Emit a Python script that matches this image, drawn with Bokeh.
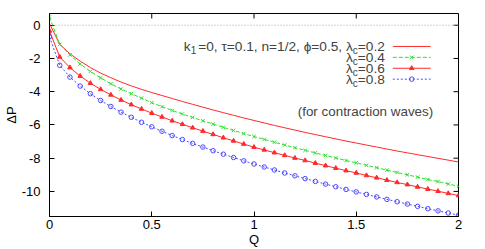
from bokeh.plotting import figure
from bokeh.models import Range1d, LinearAxis, FixedTicker, Label, Span
from bokeh.embed import file_html
from bokeh.resources import INLINE

# ---------------- data ----------------
Q = [0.0, 0.05, 0.1, 0.15, 0.2, 0.25, 0.3, 0.35, 0.4, 0.45,
     0.5, 0.55, 0.6, 0.65, 0.7, 0.75, 0.8, 0.85, 0.9, 0.95,
     1.0, 1.05, 1.1, 1.15, 1.2, 1.25, 1.3, 1.35, 1.4, 1.45,
     1.5, 1.55, 1.6, 1.65, 1.7, 1.75, 1.8, 1.85, 1.9, 1.95, 2.0]

dp_lam02 = [0.10, -1.15, -1.72, -2.16, -2.55, -2.88, -3.16, -3.42, -3.65, -3.86,
            -4.05, -4.23, -4.41, -4.59, -4.76, -4.93, -5.10, -5.26, -5.42, -5.58,
            -5.73, -5.88, -6.03, -6.17, -6.31, -6.45, -6.58, -6.71, -6.84, -6.97,
            -7.09, -7.21, -7.33, -7.45, -7.57, -7.68, -7.79, -7.90, -8.01, -8.12, -8.23]

dp_lam04 = [0.50, -1.15, -1.78, -2.33, -2.78, -3.17, -3.52, -3.84, -4.12, -4.39,
            -4.66, -4.90, -5.13, -5.34, -5.55, -5.75, -5.95, -6.14, -6.33, -6.52,
            -6.70, -6.87, -7.04, -7.21, -7.37, -7.53, -7.68, -7.84, -7.99, -8.14,
            -8.28, -8.43, -8.57, -8.72, -8.86, -9.00, -9.14, -9.28, -9.41, -9.55, -9.69]

dp_lam06 = [-0.34, -1.91, -2.55, -3.06, -3.49, -3.86, -4.19, -4.50, -4.78, -5.04,
            -5.29, -5.52, -5.75, -5.96, -6.17, -6.37, -6.57, -6.77, -6.96, -7.15,
            -7.34, -7.50, -7.67, -7.83, -7.99, -8.14, -8.30, -8.45, -8.60, -8.75,
            -8.89, -9.04, -9.18, -9.32, -9.46, -9.59, -9.73, -9.86, -9.99, -10.12, -10.25]

dp_lam08 = [-0.70, -2.41, -3.12, -3.66, -4.12, -4.53, -4.89, -5.23, -5.54, -5.84,
            -6.11, -6.38, -6.64, -6.88, -7.11, -7.33, -7.55, -7.76, -7.96, -8.16,
            -8.35, -8.53, -8.71, -8.89, -9.06, -9.23, -9.40, -9.56, -9.72, -9.88,
            -10.03, -10.18, -10.33, -10.48, -10.62, -10.76, -10.90, -11.04, -11.17, -11.30, -11.43]

x_ticks = [0, 0.5, 1, 1.5, 2]
x_tick_labels = ["0", "0.5", "1", "1.5", "2"]
y_ticks = [0, -2, -4, -6, -8, -10]
y_tick_labels = ["0", "-2", "-4", "-6", "-8", "-10"]

legend_values = ["0.2", "0.4", "0.6", "0.8"]
legend_prefix = "=0, \u03c4=0.1, n=1/2, \u03d5=0.5, \u03bb"
note_text = "(for contraction waves)"
x_label = "Q"
y_label = "\u0394P"

# ---------------- layout ----------------
FONT = "Liberation Sans"
W, H = 485, 249
ML, MR, MT, MB = 47, 27, 13, 33
FW = W - ML - MR
FH = H - MT - MB
X0, X1 = 0.0, 2.0
Y0, Y1 = -11.51, 0.706
TICK = 5

def dx(px):   # frame-relative pixel (from left) -> data x
    return X0 + px / FW * (X1 - X0)

def dy(py):   # frame-relative pixel (from top) -> data y
    return Y1 - py / FH * (Y1 - Y0)

# approximate Liberation Sans advance widths (em)
ADV = {"=": 0.584, "0": 0.556, "1": 0.556, "2": 0.556, "4": 0.556, "5": 0.556,
       "6": 0.556, "8": 0.556, ".": 0.278, ",": 0.278, " ": 0.278, "/": 0.278,
       "n": 0.556, "k": 0.5, "c": 0.5, "\u03c4": 0.43, "\u03d5": 0.66, "\u03bb": 0.5}

def tw(s, size):
    return sum(ADV.get(ch, 0.556) for ch in s) * size

RED = "#ff2a2a"
GREEN = "#2ee02e"
BLUE = "#4a4aff"

p = figure(width=W, height=H, x_range=Range1d(X0, X1), y_range=Range1d(Y0, Y1),
           output_backend="svg", toolbar_location=None,
           x_axis_location=None, y_axis_location=None,
           min_border_left=ML, min_border_right=MR, min_border_top=MT, min_border_bottom=MB)
p.grid.visible = False
p.outline_line_color = "black"
p.outline_line_width = 1
p.background_fill_color = "white"
p.border_fill_color = "white"

def make_axis(ticks, labels, standoff, title):
    ax = LinearAxis(ticker=FixedTicker(ticks=ticks))
    ax.major_tick_in = TICK
    ax.major_tick_out = 0
    ax.minor_tick_line_color = None
    ax.axis_line_color = "black"
    ax.major_tick_line_color = "black"
    ax.major_label_overrides = {t: l for t, l in zip(ticks, labels)}
    ax.major_label_text_font = FONT
    ax.major_label_text_font_size = "13px"
    ax.major_label_text_color = "black"
    ax.major_label_standoff = standoff
    ax.axis_label = title
    ax.axis_label_text_font = FONT
    ax.axis_label_text_font_size = "13px"
    ax.axis_label_text_font_style = "normal"
    ax.axis_label_text_color = "black"
    ax.axis_label_standoff = 0
    return ax

p.add_layout(make_axis(x_ticks, x_tick_labels, 3, x_label), "below")
p.add_layout(make_axis(y_ticks, y_tick_labels, 9, y_label), "left")

# mirrored inward ticks on the top and right borders
ty = (Y1 - Y0) * TICK / FH
tx = (X1 - X0) * TICK / FW
p.segment(x0=x_ticks, y0=[Y1] * len(x_ticks), x1=x_ticks, y1=[Y1 - ty] * len(x_ticks),
          line_color="black", line_width=1)
p.segment(x0=[X1] * len(y_ticks), y0=y_ticks, x1=[X1 - tx] * len(y_ticks), y1=y_ticks,
          line_color="black", line_width=1)

p.add_layout(Span(location=0, dimension="width", line_color="#a8a8a8",
                  line_dash="1 2", line_width=1))

# series
p.line(Q, dp_lam02, line_color=RED, line_width=1)
p.line(Q, dp_lam04, line_color=GREEN, line_width=1, line_dash="4 2")
p.scatter(Q, dp_lam04, marker="x", size=5, line_color=GREEN, line_width=1)
p.line(Q, dp_lam06, line_color=RED, line_width=1)
p.scatter(Q, dp_lam06, marker="triangle", size=4.5, line_color=RED,
          fill_color=RED, line_width=1)
p.line(Q, dp_lam08, line_color=BLUE, line_width=1, line_dash="2 2")
p.scatter(Q, dp_lam08, marker="circle", size=4.5, line_color=BLUE,
          fill_color=None, line_width=1)

# legend (gnuplot style: right aligned text, sample on its right)
ROW = 10.9
LEG_TOP = 27.5
SAMPLE_L, SAMPLE_R = 345, 383
TXT_R = 337
styles = [dict(color=RED, dash="solid", marker=None),
          dict(color=GREEN, dash="4 2", marker="x"),
          dict(color=RED, dash="solid", marker="triangle"),
          dict(color=BLUE, dash="2 2", marker="circle")]
M, S = 13.7, 10
for i, val in enumerate(legend_values):
    yc = dy(LEG_TOP + ROW * i + ROW / 2)
    st = styles[i]
    p.line([dx(SAMPLE_L), dx(SAMPLE_R)], [yc, yc], line_color=st["color"],
           line_width=1, line_dash=st["dash"])
    if st["marker"] == "x":
        p.scatter([dx((SAMPLE_L + SAMPLE_R) / 2)], [yc], marker="x", size=5,
                  line_color=st["color"], line_width=1)
    elif st["marker"] == "triangle":
        p.scatter([dx((SAMPLE_L + SAMPLE_R) / 2)], [yc], marker="triangle", size=4.5,
                  line_color=st["color"], fill_color=st["color"], line_width=1)
    elif st["marker"] == "circle":
        p.scatter([dx((SAMPLE_L + SAMPLE_R) / 2)], [yc], marker="circle", size=4.5,
                  line_color=st["color"], fill_color=None, line_width=1)

    tail = "=" + val
    off = 0.0
    p.add_layout(Label(x=dx(TXT_R), y=yc, text=tail, text_font=FONT,
                       text_font_size=f"{M}px", text_align="right",
                       text_baseline="middle", x_offset=off))
    off -= tw(tail, M)
    p.add_layout(Label(x=dx(TXT_R), y=yc, text="c", text_font=FONT,
                       text_font_size=f"{S}px", text_align="right",
                       text_baseline="middle", x_offset=off, y_offset=-4))
    off -= tw("c", S)
    head = legend_prefix if i == 0 else "\u03bb"
    p.add_layout(Label(x=dx(TXT_R), y=yc, text=head, text_font=FONT,
                       text_font_size=f"{M}px", text_align="right",
                       text_baseline="middle", x_offset=off))
    if i == 0:
        off -= tw(head, M)
        p.add_layout(Label(x=dx(TXT_R), y=yc, text="1", text_font=FONT,
                           text_font_size=f"{S}px", text_align="right",
                           text_baseline="middle", x_offset=off, y_offset=-4))
        off -= tw("1", S)
        p.add_layout(Label(x=dx(TXT_R), y=yc, text="k", text_font=FONT,
                           text_font_size=f"{M}px", text_align="right",
                           text_baseline="middle", x_offset=off))

# note
p.add_layout(Label(x=dx(317.5), y=dy(98), text=note_text, text_font=FONT,
                   text_font_size="13.4px", text_align="center", text_baseline="middle"))

open("out.html", "w").write(file_html(p, INLINE))
